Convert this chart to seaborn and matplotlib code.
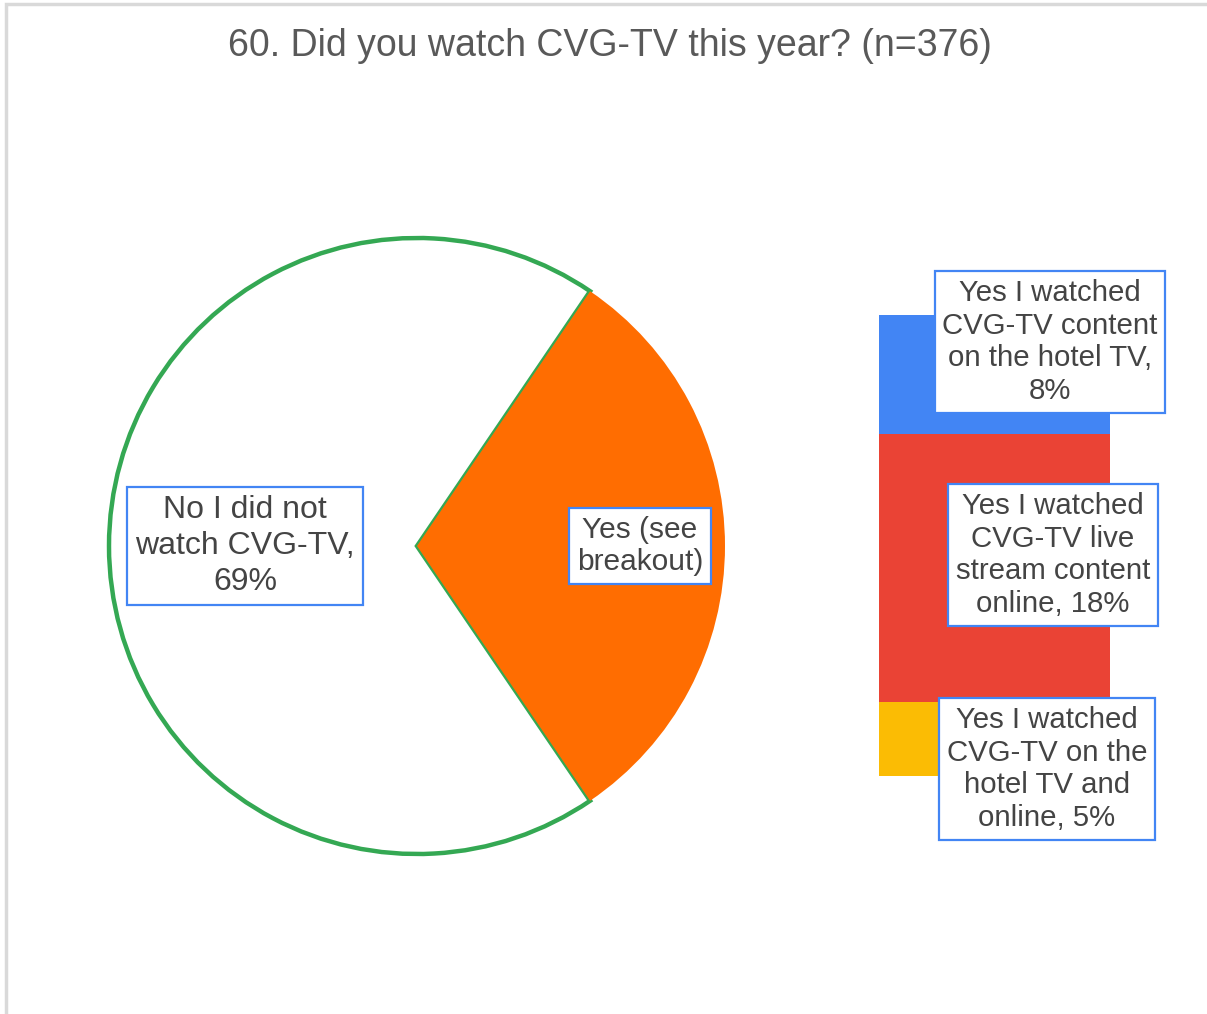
import numpy as np
import matplotlib
matplotlib.use("Agg")
import matplotlib.pyplot as plt
import matplotlib.patches as patches
import seaborn as sns

# ---------------- DATA ----------------
pie_labels = ["No I did not\nwatch CVG-TV,\n69%", "Yes (see\nbreakout)"]
pie_values = [69, 31]
pie_colors = ["#FFFFFF", "#FF6D01"]

bar_labels = [
    "Yes I watched\nCVG-TV content\non the hotel TV,\n8%",
    "Yes I watched\nCVG-TV live\nstream content\nonline, 18%",
    "Yes I watched\nCVG-TV on the\nhotel TV and\nonline, 5%",
]
bar_values = [8, 18, 5]          # top to bottom
bar_colors = ["#4285F4", "#EA4335", "#FBBC04"]

title = "60. Did you watch CVG-TV this year? (n=376)"

# ---------------- STYLE ----------------
sns.set_theme(style="white")
plt.rcParams["font.family"] = ["Liberation Sans", "DejaVu Sans"]

W, H = 1207, 1014
fig = plt.figure(figsize=(W / 100, H / 100), dpi=100)
fig.patch.set_facecolor("white")

text_color = "#444444"
box_kw = dict(boxstyle="square,pad=0.25", facecolor="white", edgecolor="#4285F4", linewidth=1.6)

# outer border (only top and left visible)
fig.patches.append(patches.Rectangle((6 / W, -0.1), 1.2, (H - 4) / H + 0.1,
                                     transform=fig.transFigure, fill=False,
                                     edgecolor="#d9d9d9", linewidth=2.5))

fig.text(610 / W, 1 - 46 / H, title, ha="center", va="center",
         fontsize=27, color="#595959")

# ---------------- PIE ----------------
cx, cy, r = 417, 546, 308
pad = 10
ax_pie = fig.add_axes([(cx - r - pad) / W, (H - cy - r - pad) / H,
                       2 * (r + pad) / W, 2 * (r + pad) / H])
start = pie_values[1] / sum(pie_values) * 180
wedges, _ = ax_pie.pie(pie_values, colors=pie_colors, startangle=start,
                       counterclock=True, radius=1)
wedges[0].set_edgecolor("#34A853")
wedges[0].set_linewidth(3.2)
wedges[1].set_linewidth(0)
lim = (r + pad) / r
ax_pie.set_xlim(-lim, lim)
ax_pie.set_ylim(-lim, lim)
ax_pie.set_aspect("equal")
ax_pie.axis("off")

ax_pie.text((245 - cx) / r, 0, pie_labels[0], ha="center", va="center",
            fontsize=23, color=text_color, linespacing=1.25, bbox=box_kw)
ax_pie.text((640 - cx) / r, 0, pie_labels[1], ha="center", va="center",
            fontsize=21.5, color=text_color, linespacing=1.2, bbox=box_kw)

# ---------------- STACKED BAR ----------------
bx0, bx1, by0, by1 = 879, 1110, 315, 776
ax_bar = fig.add_axes([bx0 / W, (H - by1) / H, (bx1 - bx0) / W, (by1 - by0) / H])
tops = np.cumsum(bar_values[::-1])[::-1]   # cumulative heights from the bottom
for top, col in zip(tops, bar_colors):
    sns.barplot(x=[0], y=[top], color=col, width=1, ax=ax_bar,
                saturation=1, linewidth=0)
ax_bar.set_xlim(-0.5, 0.5)
ax_bar.set_ylim(0, sum(bar_values))
ax_bar.axis("off")

# label positions in pixels (layout)
label_pos = [(1050, 342), (1053, 555), (1047, 769)]
for lab, (px, py) in zip(bar_labels, label_pos):
    fig.text(px / W, 1 - py / H, lab, ha="center", va="center",
             fontsize=21.2, color=text_color, linespacing=1.22, bbox=box_kw)

fig.savefig("out.png", dpi=100)
